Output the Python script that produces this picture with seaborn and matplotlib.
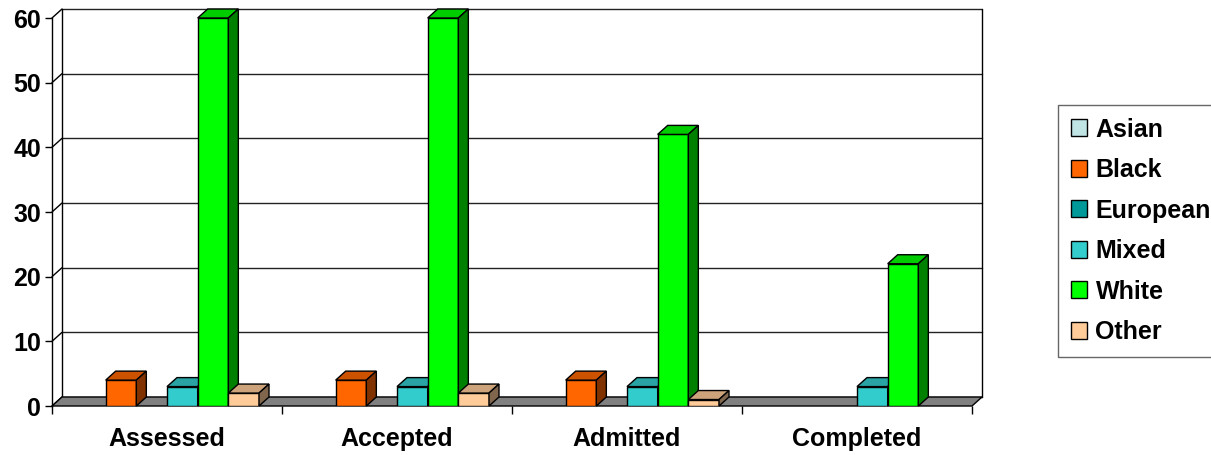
import numpy as np
import pandas as pd
import matplotlib
matplotlib.use("Agg")
import matplotlib.pyplot as plt
import seaborn as sns
from matplotlib.patches import Polygon, Patch
from matplotlib.colors import to_rgb

stages = ["Assessed", "Accepted", "Admitted", "Completed"]
groups = ["Asian", "Black", "European", "Mixed", "White", "Other"]
asian = [0, 0, 0, 0]
black = [4, 4, 4, 0]
european = [0, 0, 0, 0]
mixed = [3, 3, 3, 3]
white = [60, 60, 42, 22]
other = [2, 2, 1, 0]
colors = ["#C0E4E4", "#FF6600", "#009999", "#33CCCC", "#00FF00", "#FFCC99"]
yticks = [0, 10, 20, 30, 40, 50, 60]

series = {"Asian": asian, "Black": black, "European": european,
          "Mixed": mixed, "White": white, "Other": other}
rows = []
for g in groups:
    for s, v in zip(stages, series[g]):
        rows.append({"Stage": s, "Group": g, "Count": v})
df = pd.DataFrame(rows)

sns.set_theme(style="white")
plt.rcParams["font.family"] = ["Liberation Sans", "DejaVu Sans"]
plt.rcParams["font.weight"] = "bold"
plt.rcParams["text.color"] = "black"
plt.rcParams["xtick.color"] = "black"
plt.rcParams["ytick.color"] = "black"
plt.rcParams["xtick.labelcolor"] = "black"
plt.rcParams["ytick.labelcolor"] = "black"

W, H = 1211, 455
fig = plt.figure(figsize=(W / 100, H / 100), dpi=100)
# front plot area: x 52..972 px, y(0)=406 px, y(60)=18 px
ax = fig.add_axes([52 / W, (H - 406) / H, 920 / W, 388 / H])

sns.barplot(data=df, x="Stage", y="Count", hue="Group", order=stages,
            hue_order=groups, palette=colors, saturation=1, errorbar=None,
            edgecolor="black", linewidth=1.0, legend=False, ax=ax, width=0.8)

ax.set_xlim(-0.5, 3.5)
ax.set_ylim(0, 60)

# depth offsets (px -> data units)
dx = 10 * 4.0 / 920
dy = 9 * 60.0 / 388

x0a, x1a = -0.5, 3.5
# back wall gridlines and left diagonals
for v in yticks:
    ax.plot([x0a + dx, x1a + dx], [v + dy, v + dy], color="#222222", lw=1.0,
            zorder=1, clip_on=False)
    ax.plot([x0a, x0a + dx], [v, v + dy], color="black", lw=1.0, zorder=1,
            clip_on=False)
# back wall verticals
ax.plot([x0a + dx, x0a + dx], [dy, 60 + dy], color="black", lw=1.0, zorder=1, clip_on=False)
ax.plot([x1a + dx, x1a + dx], [dy, 60 + dy], color="black", lw=1.0, zorder=1, clip_on=False)
# floor
floor = Polygon([(x0a, 0), (x1a, 0), (x1a + dx, dy), (x0a + dx, dy)], closed=True,
                facecolor="#808080", edgecolor="black", lw=1.0, zorder=1.5,
                clip_on=False)
ax.add_patch(floor)

# 3D faces for bars
bars = []
for cont in ax.containers:
    for p in cont.patches:
        bars.append(p)
bars.sort(key=lambda p: p.get_x())
for i, p in enumerate(bars):
    h = p.get_height()
    if h <= 0:
        p.set_visible(False)
        continue
    z = 3 + i * 0.01
    p.set_zorder(z)
    x0 = p.get_x()
    x1 = x0 + p.get_width()
    c = np.array(to_rgb(p.get_facecolor()))
    top = Polygon([(x0, h), (x1, h), (x1 + dx, h + dy), (x0 + dx, h + dy)],
                  closed=True, facecolor=c * 0.8, edgecolor="black", lw=1.0,
                  zorder=z, clip_on=False)
    side = Polygon([(x1, 0), (x1, h), (x1 + dx, h + dy), (x1 + dx, dy)],
                   closed=True, facecolor=c * 0.5, edgecolor="black", lw=1.0,
                   zorder=z, clip_on=False)
    ax.add_patch(top)
    ax.add_patch(side)

# axes styling
for s in ["top", "right", "bottom"]:
    ax.spines[s].set_visible(False)
ax.spines["left"].set_color("black")
ax.spines["left"].set_linewidth(1.0)
ax.set_yticks(yticks)
ax.set_yticklabels([str(v) for v in yticks], fontsize=18, fontweight="bold",
                   color="black")
ax.tick_params(axis="y", which="major", left=True, length=5, width=1,
               color="black", pad=3)
ax.set_xticks(range(len(stages)))
ax.set_xticklabels(stages, fontsize=18, fontweight="bold", color="black")
ax.set_xticks([-0.5, 0.5, 1.5, 2.5, 3.5], minor=True)
ax.tick_params(axis="x", which="major", bottom=False, length=0, pad=15)
ax.tick_params(axis="x", which="minor", bottom=True, length=6, width=1,
               color="black")
ax.set_xlabel("")
ax.set_ylabel("")
ax.grid(False)
ax.patch.set_alpha(0)

handles = [Patch(facecolor=c, edgecolor="black", lw=1.0, label=g)
           for g, c in zip(groups, colors)]
leg = fig.legend(handles=handles, loc="upper left",
                 bbox_to_anchor=(1058 / W, 1 - 105 / H),
                 bbox_transform=fig.transFigure, frameon=True,
                 prop={"size": 18, "weight": "bold"}, handlelength=0.65,
                 handleheight=0.65, handletextpad=0.35, labelspacing=0.66,
                 borderpad=0.5, borderaxespad=0, fancybox=False)
leg.get_frame().set_edgecolor("#404040")
leg.get_frame().set_linewidth(1.0)
for t in leg.get_texts():
    t.set_color("black")

fig.savefig("out.png", dpi=100)
